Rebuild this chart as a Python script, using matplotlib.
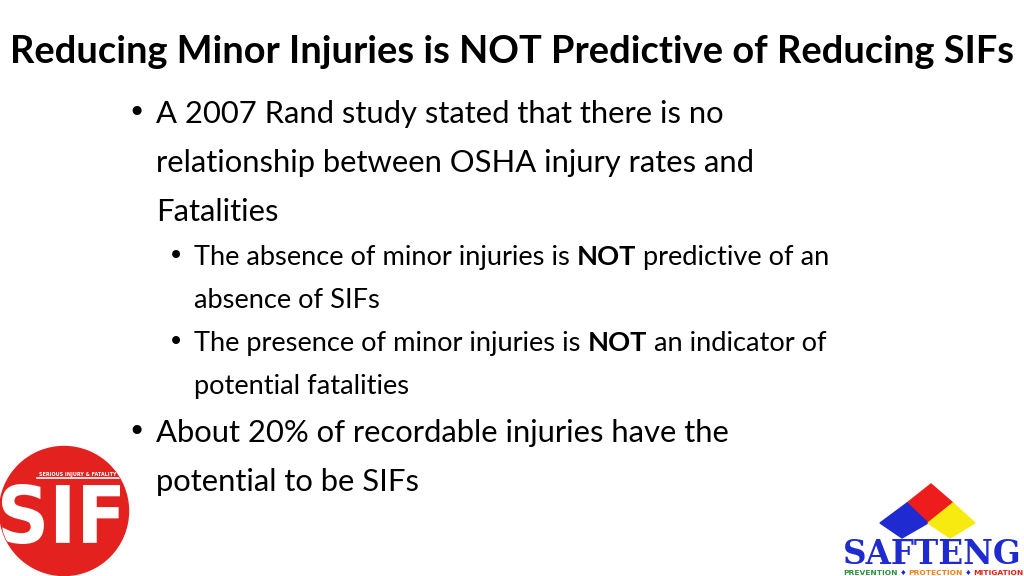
import matplotlib
matplotlib.use("Agg")
import matplotlib.pyplot as plt
from matplotlib.patches import Circle, Polygon, PathPatch
from matplotlib.textpath import TextPath
from matplotlib.font_manager import FontProperties
from matplotlib.transforms import Affine2D

# slide content
TITLE = "Reducing Minor Injuries is NOT Predictive of Reducing SIFs"

# (level, runs) for every visual line; a run is (text, bold)
LINES = [
    (0, [("A 2007 Rand study stated that there is no", False)]),
    (0, [("relationship between OSHA injury rates and", False)]),
    (0, [("Fatalities", False)]),
    (1, [("The absence of minor injuries is ", False), ("NOT", True), (" predictive of an", False)]),
    (1, [("absence of SIFs", False)]),
    (1, [("The presence of minor injuries is ", False), ("NOT", True), (" an indicator of", False)]),
    (1, [("potential fatalities", False)]),
    (0, [("About 20% of recordable injuries have the", False)]),
    (0, [("potential to be SIFs", False)]),
]
BULLET_START = [True, False, False, True, False, True, False, True, False]

SIF_SMALL = "SERIOUS INJURY & FATALITY"
SIF_BIG = "SIF"
BRAND = "SAFTENG"
TAGLINE = [("PREVENTION", "#2f8f3f"), ("\u2666", "#1f2bd0"), ("PROTECTION", "#f0821e"),
           ("\u2666", "#1f2bd0"), ("MITIGATION", "#e0201c")]

FONT = "Lato"

fig = plt.figure(figsize=(10.24, 5.76), dpi=100)
ax = fig.add_axes([0, 0, 1, 1])
ax.set_xlim(0, 1024)
ax.set_ylim(576, 0)
ax.axis("off")
renderer = fig.canvas.get_renderer()


def text_width(s, size, bold=False, family=FONT):
    t = ax.text(0, 0, s, fontsize=size, family=family, fontweight="bold" if bold else "normal")
    w = t.get_window_extent(renderer).width
    t.remove()
    return w


def fit_size(s, width, bold=False, family=FONT):
    return 20 * width / text_width(s, 20, bold, family)


def draw_runs(x, y, runs, size, family=FONT):
    for s, bold in runs:
        t = ax.text(x, y, s, fontsize=size, family=family, va="baseline", ha="left",
                    fontweight="bold" if bold else "normal", color="black")
        x += t.get_window_extent(renderer).width


# title
title_size = fit_size(TITLE, 1004, bold=True)
ax.text(512, 63, TITLE, fontsize=title_size, family=FONT, fontweight="bold",
        ha="center", va="baseline")

# bullet text
sizes = [fit_size(LINES[0][1][0][0], 571), 0]
sizes[1] = 20 * 638 / sum(text_width(s, 20, b) for s, b in LINES[3][1])
text_x = [156, 194]
bullet_x = [136.5, 176]
baselines = [123, 172, 221, 265, 308, 351, 394, 442, 491]
for (level, runs), start, yb in zip(LINES, BULLET_START, baselines):
    if start:
        ax.text(bullet_x[level], yb - 1, "\u2022", fontsize=sizes[level],
                family="DejaVu Sans", va="baseline", ha="center")
    draw_runs(text_x[level], yb, runs, sizes[level])

# SIF logo
red = "#e3211f"
circ = Circle((64, 511), 64.5, color=red, zorder=2)
ax.add_patch(circ)
tp = TextPath((0, 0), SIF_BIG, size=50, prop=FontProperties(family="DejaVu Sans", weight="bold"))
bb = tp.get_extents()
x0, x1, y0, y1 = 2, 120, 484, 544
tr = (Affine2D().translate(-bb.x0, -bb.y0)
      .scale((x1 - x0) / bb.width, -(y1 - y0) / bb.height)
      .translate(x0, y1))
sif = PathPatch(tr.transform_path(tp), facecolor="white", edgecolor="none", zorder=3)
ax.add_patch(sif)
sif.set_clip_path(circ)
ax.plot([37, 128], [478, 478], color="white", lw=1.2, zorder=3, clip_path=circ)
ax.text(39, 476, SIF_SMALL, fontsize=fit_size(SIF_SMALL, 76, True, "DejaVu Sans"),
        family="DejaVu Sans", fontweight="bold", color="white", va="baseline", zorder=4)

# SAFTENG logo
ax.add_patch(Polygon([(931, 484), (953, 503), (928, 523), (907, 503)], color="#ee1c1c"))
ax.add_patch(Polygon([(907, 503), (928, 523), (902, 538), (880, 523)], color="#1f2bd0"))
ax.add_patch(Polygon([(953, 503), (975, 523), (950, 538), (928, 523)], color="#f7ea10"))
ax.text(843, 564, BRAND, fontsize=fit_size(BRAND, 179, True, "DejaVu Serif"),
        family="DejaVu Serif", fontweight="bold", color="#1f2bd0", va="baseline")
gap = 2
tag_size = 20 * (179 - gap * 4) / sum(text_width(s, 20, True, "DejaVu Sans") for s, _ in TAGLINE)
x = 843
for s, c in TAGLINE:
    t = ax.text(x, 575, s, fontsize=tag_size, family="DejaVu Sans", fontweight="bold",
                color=c, va="baseline")
    x += t.get_window_extent(renderer).width + gap

fig.savefig("out.png", dpi=100)
